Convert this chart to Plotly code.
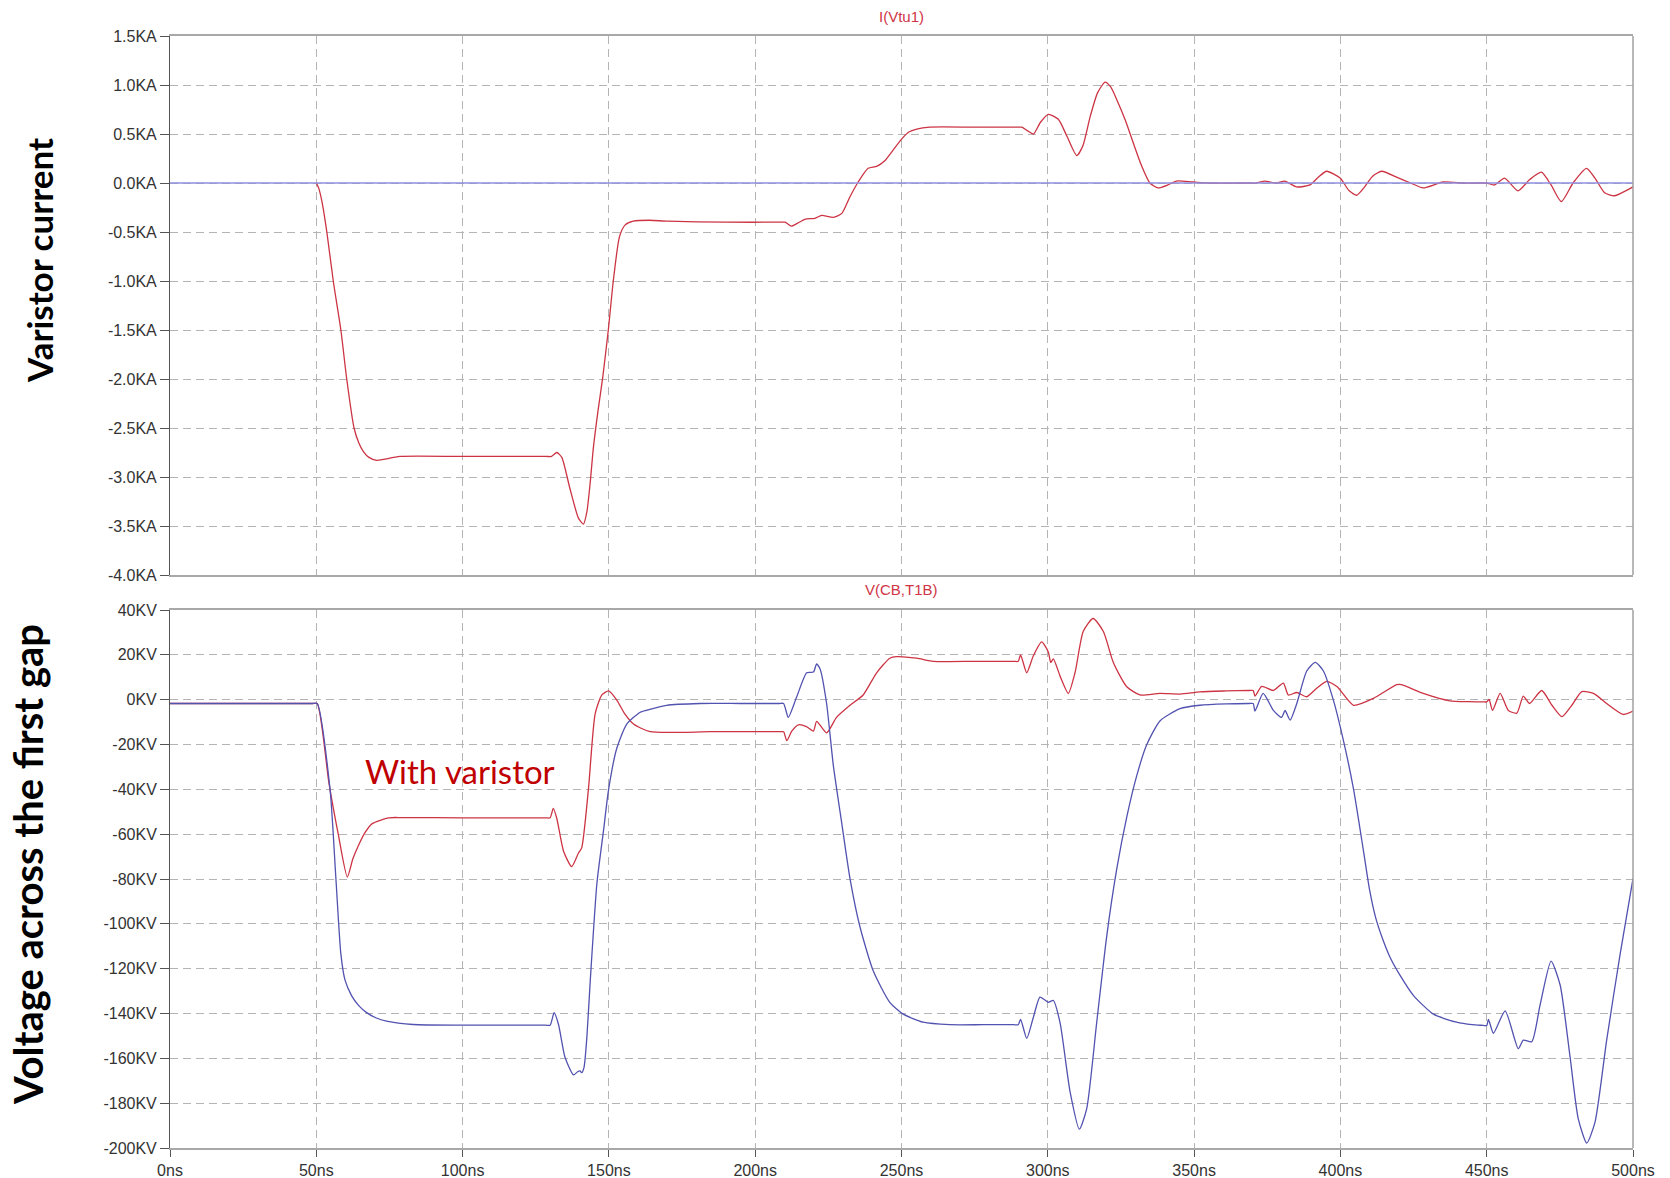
import plotly.graph_objects as go

# ---------------- data ----------------
x_tick_vals = [0, 50, 100, 150, 200, 250, 300, 350, 400, 450, 500]
x_tick_text = ["0ns", "50ns", "100ns", "150ns", "200ns", "250ns", "300ns", "350ns", "400ns", "450ns", "500ns"]

i_tick_vals = [1.5, 1.0, 0.5, 0.0, -0.5, -1.0, -1.5, -2.0, -2.5, -3.0, -3.5, -4.0]
i_tick_text = ["1.5KA", "1.0KA", "0.5KA", "0.0KA", "-0.5KA", "-1.0KA", "-1.5KA", "-2.0KA",
               "-2.5KA", "-3.0KA", "-3.5KA", "-4.0KA"]

v_tick_vals = [40, 20, 0, -20, -40, -60, -80, -100, -120, -140, -160, -180, -200]
v_tick_text = ["40KV", "20KV", "0KV", "-20KV", "-40KV", "-60KV", "-80KV", "-100KV", "-120KV",
               "-140KV", "-160KV", "-180KV", "-200KV"]

# I(Vtu1) varistor current (kA)
t_cur = [50, 50.8, 52, 53.6, 55.8, 58.4, 60.4, 62.9, 64.5, 66.1, 68, 70.6, 73, 78.6, 100, 128.5, 130.4,
         132.2, 133.9, 136.7, 139.6, 141.3, 142.5, 143.6, 144.7, 146.3, 147.9, 149.8, 151.5,
         153.6, 155.5, 158.3, 164, 170, 190, 208.5, 210.2, 212.4, 214.5, 217, 220.4, 222.7, 226.7, 229.6,
         232.4, 235.2, 238.6, 241.5, 244.4, 247, 250.1, 252.5, 255.2, 259.7, 275, 289.5, 291.1, 293.2,
         295.1, 297.5, 300.2, 303.6, 306.5, 309.9, 312, 314.5, 317, 319.6, 321.5, 323.5, 326.5,
         329.2, 332, 334.9, 337.7, 341, 344, 349.6, 355, 369.5, 371.3, 374.2, 378, 381, 385, 389.6,
         392.5, 395.3, 399.9, 403, 405.6, 408, 411, 414.1, 419.2, 424, 428.3, 435.1, 442, 448.3, 449.9,
         452.7, 456.1, 460.7, 464.7, 468.7, 472, 475.5, 479.5, 484.1, 487, 490.3, 493.7,
         499.4, 500]
i_cur = [0, -0.05, -0.2, -0.5, -1.0, -1.5, -2.0, -2.5, -2.65, -2.74, -2.8, -2.83, -2.82, -2.79, -2.79, -2.79,
         -2.79, -2.75, -2.8, -3.12, -3.42, -3.48, -3.35, -3.06, -2.7, -2.32, -1.98, -1.5, -1.0,
         -0.55, -0.43, -0.39, -0.38, -0.39, -0.4, -0.4, -0.4, -0.44, -0.41, -0.37, -0.36, -0.33, -0.35, -0.31,
         -0.14, 0.01, 0.15, 0.17, 0.23, 0.33, 0.45, 0.52, 0.55, 0.57, 0.57, 0.57, 0.57, 0.53,
         0.5, 0.62, 0.7, 0.65, 0.48, 0.28, 0.38, 0.68, 0.92, 1.03, 0.98, 0.855, 0.64,
         0.41, 0.18, 0.0, -0.05, -0.02, 0.02, 0.01, 0.0, 0.0, 0.0, 0.02, 0.0, 0.02, -0.04, -0.02,
         0.06, 0.12, 0.05, -0.08, -0.125, -0.05, 0.07, 0.12, 0.06, 0.0, -0.05, 0.01, 0.0, 0.0, 0.0,
         -0.02, 0.05, -0.08, 0.035, 0.11, -0.02, -0.19, 0.0, 0.15, 0.05, -0.1, -0.13,
         -0.05, -0.04]

t_zero = [0, 500]
i_zero = [0, 0]

# V(CB,T1B) without varistor (kV)
t_vb = [0, 25, 48.5, 50.3, 54.7, 56.7, 58.4, 59.8, 62.0, 64.5, 67.2, 70.5, 74.0, 83.1, 100, 128.3, 129.9, 131.3,
        132.8, 135.0, 137.9, 139.3, 140.1, 140.7, 141.5, 142.5, 143.6, 145.9, 148.2, 149.9,
        152.7, 156.1, 160.7, 164.0, 169.7, 181.1, 195, 208.2, 209.7, 211.3, 214.2, 217.6, 219.9, 221.0,
        222.2, 224.4, 226.7, 229.6, 232.4, 235.8, 240.4, 246.0, 250.6, 257.4, 266.5, 278, 288.4, 289.9,
        290.7, 292.8, 295.0, 297.3, 299.0, 300.2, 301.9, 304.2, 307.6, 310.8, 313.3, 316.7,
        320.1, 323.6, 327.0, 330.4, 333.8, 338.4, 345.2, 352.0, 361, 368.8, 370.2, 370.8, 373.6, 377.1,
        379.9, 381.1, 382.8, 385.1, 388.5, 391.4, 394.2, 397.6, 401.1, 404.5, 407.9, 410.0,
        412.0, 414.5, 417.0, 420.4, 425.0, 431.8, 439.7, 445, 448.8, 450.0, 450.6, 452.3, 456.3, 460.8, 462.5,
        465.4, 468.2, 472.0, 475.1, 478.5, 481.3, 484.2, 487.0, 491.0, 495.6, 500]
v_blue = [-1.7, -1.7, -1.7, -1.7, -40, -79.8, -113.5, -125, -131.9, -136.5, -139.6, -142, -143.4, -144.9,
          -145.2, -145.2, -145.2, -139.6, -145, -159.5, -167.4, -166, -165.6, -166.4, -164, -150,
          -126, -82, -58, -40, -21.7, -10.9, -5.6, -4.3, -2.5, -1.7, -1.7, -1.7, -1.7, -7.9, 1.3, 12,
          12.3, 15.9, 13.6, -1.7, -29.3, -55.3, -79.8, -101.3, -121.2, -135, -140.3, -143.9,
          -145, -145, -145, -145, -142.6, -151.1, -142, -132.7, -134, -135, -134.2, -144.2, -174.8,
          -191.6, -182.4, -144.2, -105.9, -75.3, -52.3, -33.9, -20.1, -9.4, -4, -2.5, -1.9, -1.7, -1.7,
          -5.1, 2.8, -4.8, -7.9, -4.8, -9.1, -1.7, 12.8, 16.6, 12.8, -0.2, -18.6, -40, -67.6, -85,
          -97, -107, -115, -123, -132, -140.3, -143.9, -145, -145.3, -145.4, -142.6, -148.8, -138.8,
          -155.7, -151.9, -152.6, -136.5, -116.6, -127.3, -159.5, -187, -197.8, -188.6,
          -151.9, -113.5, -79.8]

# V(CB,T1B) with varistor (kV)
t_vr = [0, 25, 48.5, 50.3, 54.3, 57.5, 60.6, 62.5, 64.6, 66.8, 69.1, 74.8, 79.4, 100, 128.3, 129.9, 131.0, 132.2,
        134.5, 137.3, 139.6, 140.7, 143.0, 145.3, 147.6, 149.9, 152.7, 155.5, 158.4, 164.1, 185,
        208.2, 209.7, 210.8, 212.5, 214.8, 217.5, 219.9, 221.0, 224.4, 227.8, 232.4, 236.9, 241.5,
        246.0, 248.3, 255.2, 260.9, 275, 288.4, 289.9, 290.7, 292.8, 295.1, 297.9, 300.2, 301.0, 301.9,
        304.2, 307.0, 309.3, 312.1, 315.5, 319.0, 322.4, 326.9, 331.5, 338.3, 345.2, 352.0, 361,
        368.8, 370.2, 370.8, 373.1, 377.1, 380.5, 382.2, 385.1, 388.5, 391.9, 395.3, 398.8, 404.5,
        411.3, 419.3, 420.9, 428.3, 437.4, 444, 448.8, 450.0, 450.8, 452.0, 454.6, 457.4, 460.3, 462.5,
        464.6, 468.8, 472.3, 475.7, 479.1, 482.5, 486.5, 491.0, 496.7, 500]
v_red = [-1.7, -1.7, -1.7, -1.7, -37, -60, -79.1, -71, -64.5, -59, -55.3, -52.7, -52.6, -52.7, -52.7, -52.7, -48.5, -53,
         -67.6, -74.5, -68.4, -66.1, -40, -6.3, 2.1, 3.9, -0.2, -6.5, -10.9, -14.3, -14.3,
         -14.3, -14.3, -18.3, -14, -11.2, -12, -14, -9.7, -14.8, -7.9, -2.5, 2.1, 12,
         18.5, 19.2, 18.5, 17.1, 17.1, 17.1, 17.1, 20, 12, 19.7, 25.8, 21.2, 16.6, 18.2,
         10.5, 2.8, 12, 30.4, 36.2, 30.4, 16.6, 5.9, 2.1, 2.8, 2.5, 3.5, 3.9,
         4.1, 4.1, 1.6, 5.9, 4.1, 7.4, 2.1, 3.2, 1.3, 5.1, 8.2, 5.9, -2.5,
         0.6, 6.7, 6.7, 2.8, -0.5, -0.9, -1, -1, 0.1, -4.8, 2.8, -4.8, -6, 1.6,
         -1.7, 4.1, -2.5, -7.6, -2.5, 3.6, 2.8, -1.7, -6.6, -5.1]

# ---------------- style ----------------
RED = "#cc3444"
BLUE_TOP = "#8f8fe0"
BLUE = "#5252b0"
GRID = "#b4b4b4"
TICKFONT = dict(family="Liberation Sans, Arial", size=16, color="#333333")
LINE = dict(width=1.3, shape="spline", smoothing=0.6)

W, H = 1670, 1178
x0, x1 = 170 / W, 1633 / W
top_dom = [1 - 575 / H, 1 - 36 / H]
bot_dom = [1 - 1148 / H, 1 - 610 / H]

fig = go.Figure()
fig.add_trace(go.Scatter(x=t_cur, y=i_cur, mode="lines", line=dict(color=RED, **LINE),
                         xaxis="x", yaxis="y", showlegend=False))
fig.add_trace(go.Scatter(x=t_zero, y=i_zero, mode="lines", line=dict(color=BLUE_TOP, width=1.3),
                         xaxis="x", yaxis="y", showlegend=False))
fig.add_trace(go.Scatter(x=t_vr, y=v_red, mode="lines", line=dict(color=RED, **LINE),
                         xaxis="x2", yaxis="y2", showlegend=False))
fig.add_trace(go.Scatter(x=t_vb, y=v_blue, mode="lines", line=dict(color=BLUE, **LINE),
                         xaxis="x2", yaxis="y2", showlegend=False))

xcommon = dict(range=[0, 500], tickvals=x_tick_vals, showgrid=True, gridcolor=GRID, griddash="8px,5px",
               gridwidth=1, zeroline=False, showline=True, linecolor="#a8a8a8", linewidth=2, mirror=True,
               domain=[x0, x1], fixedrange=True, automargin=False)
ycommon = dict(showgrid=True, gridcolor=GRID, griddash="8px,5px", gridwidth=1, zeroline=False,
               showline=True, linecolor="#555555", linewidth=1, ticks="outside", ticklen=9,
               tickcolor="#555555", tickfont=TICKFONT, fixedrange=True, automargin=False)

fig.update_layout(
    width=W, height=H, margin=dict(l=0, r=0, t=0, b=0, autoexpand=False),
    paper_bgcolor="white", plot_bgcolor="white",
    xaxis=dict(**xcommon, anchor="y", showticklabels=False, ticks=""),
    yaxis=dict(**ycommon, range=[-4.0, 1.5], tickvals=i_tick_vals, ticktext=i_tick_text,
               domain=top_dom, anchor="x"),
    xaxis2=dict(**xcommon, anchor="y2", ticktext=x_tick_text, ticks="outside", ticklen=7,
                tickcolor="#555555", tickfont=TICKFONT),
    yaxis2=dict(**ycommon, range=[-200, 40], tickvals=v_tick_vals, ticktext=v_tick_text,
                domain=bot_dom, anchor="x2"),
)

# right borders
for yref in ["y domain", "y2 domain"]:
    xr = "x domain" if yref == "y domain" else "x2 domain"
    fig.add_shape(type="line", xref=xr, yref=yref, x0=1, x1=1, y0=0, y1=1,
                  line=dict(color="#a0a0a0", width=1.5))

fig.add_annotation(text="I(Vtu1)", xref="paper", yref="paper", x=901 / W, y=1 - 16 / H,
                   showarrow=False, xanchor="center", yanchor="middle",
                   font=dict(family="Liberation Sans, Arial", size=15, color="#d03545"))
fig.add_annotation(text="V(CB,T1B)", xref="paper", yref="paper", x=901 / W, y=1 - 589 / H,
                   showarrow=False, xanchor="center", yanchor="middle",
                   font=dict(family="Liberation Sans, Arial", size=15, color="#d03545"))
fig.add_annotation(text="Varistor current", xref="paper", yref="paper", x=39 / W, y=1 - 261 / H,
                   showarrow=False, xanchor="center", yanchor="middle", textangle=-90,
                   font=dict(family="Lato", size=35, color="black", weight="bold"))
fig.add_annotation(text="Voltage across the first gap", xref="paper", yref="paper", x=28 / W,
                   y=1 - 865 / H, showarrow=False, xanchor="center", yanchor="middle", textangle=-90,
                   font=dict(family="Lato", size=40, color="black", weight="bold"))
fig.add_annotation(text="With varistor", xref="paper", yref="paper", x=460 / W, y=1 - 771 / H,
                   showarrow=False, xanchor="center", yanchor="middle",
                   font=dict(family="Lato", size=33, color="#c00000"))

fig.write_html("out.html")
